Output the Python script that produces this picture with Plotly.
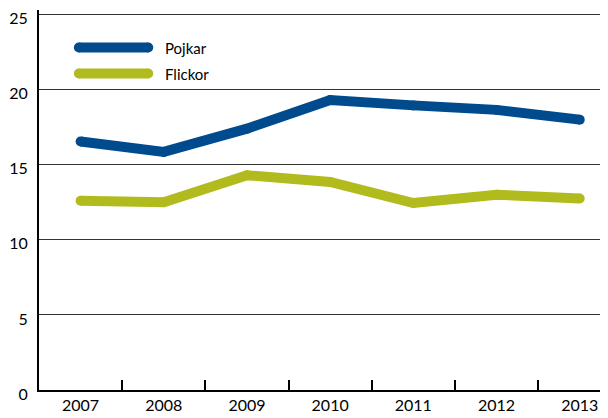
import plotly.graph_objects as go

years = ['2007', '2008', '2009', '2010', '2011', '2012', '2013']
pojkar = [16.55, 15.85, 17.4, 19.3, 18.95, 18.65, 18.0]
flickor = [12.6, 12.5, 14.3, 13.85, 12.45, 13.0, 12.75]

blue = '#004b8d'
olive = '#b2bb1e'

fig = go.Figure()
for name, vals, col in [('Pojkar', pojkar, blue), ('Flickor', flickor, olive)]:
    fig.add_trace(go.Scatter(
        x=years, y=vals, name=name, mode='lines+markers',
        line=dict(color=col, width=10),
        marker=dict(color=col, size=10),
        hoverinfo='x+y+name'
    ))

# legend drawn by hand so the swatches can be long and thick
for i, (name, col) in enumerate([('Pojkar', blue), ('Flickor', olive)]):
    yp = 22.8 - i * 1.73
    fig.add_shape(type='line', xref='paper', yref='y',
                  x0=0.07, x1=0.192, y0=yp, y1=yp,
                  line=dict(color=col, width=10))
    for xe in (0.07, 0.192):
        fig.add_shape(type='circle', xref='paper', yref='y',
                      xsizemode='pixel', ysizemode='pixel',
                      xanchor=xe, yanchor=yp,
                      x0=-5, x1=5, y0=-5, y1=5,
                      fillcolor=col, line=dict(width=0))
    fig.add_annotation(x=0.218, y=yp, xref='paper', yref='y',
                       text=name, showarrow=False,
                       xanchor='left', yanchor='middle',
                       font=dict(size=15, color='black'))

# page body has an 8px margin, so the figure is 600x410
fig.update_layout(
    width=600, height=410,
    margin=dict(l=31, r=0, t=2, b=28),
    paper_bgcolor='white', plot_bgcolor='white',
    font=dict(family='Lato', size=16, color='black'),
    showlegend=False,
    xaxis=dict(
        type='category', range=[-0.5, 6.34],
        showgrid=False, showline=True, linecolor='black', linewidth=2,
        ticks='inside', tickson='boundaries', ticklen=10, tickcolor='black',
        tickwidth=1.5, zeroline=False
    ),
    yaxis=dict(
        range=[0, 25.3], tickvals=[0, 5, 10, 15, 20, 25],
        showgrid=True, gridcolor='#333333', gridwidth=1,
        showline=True, linecolor='black', linewidth=2, zeroline=False,
        ticks='', ticklabelstandoff=6, ticklabelshift=4
    ),
)

fig.write_html('out.html')
